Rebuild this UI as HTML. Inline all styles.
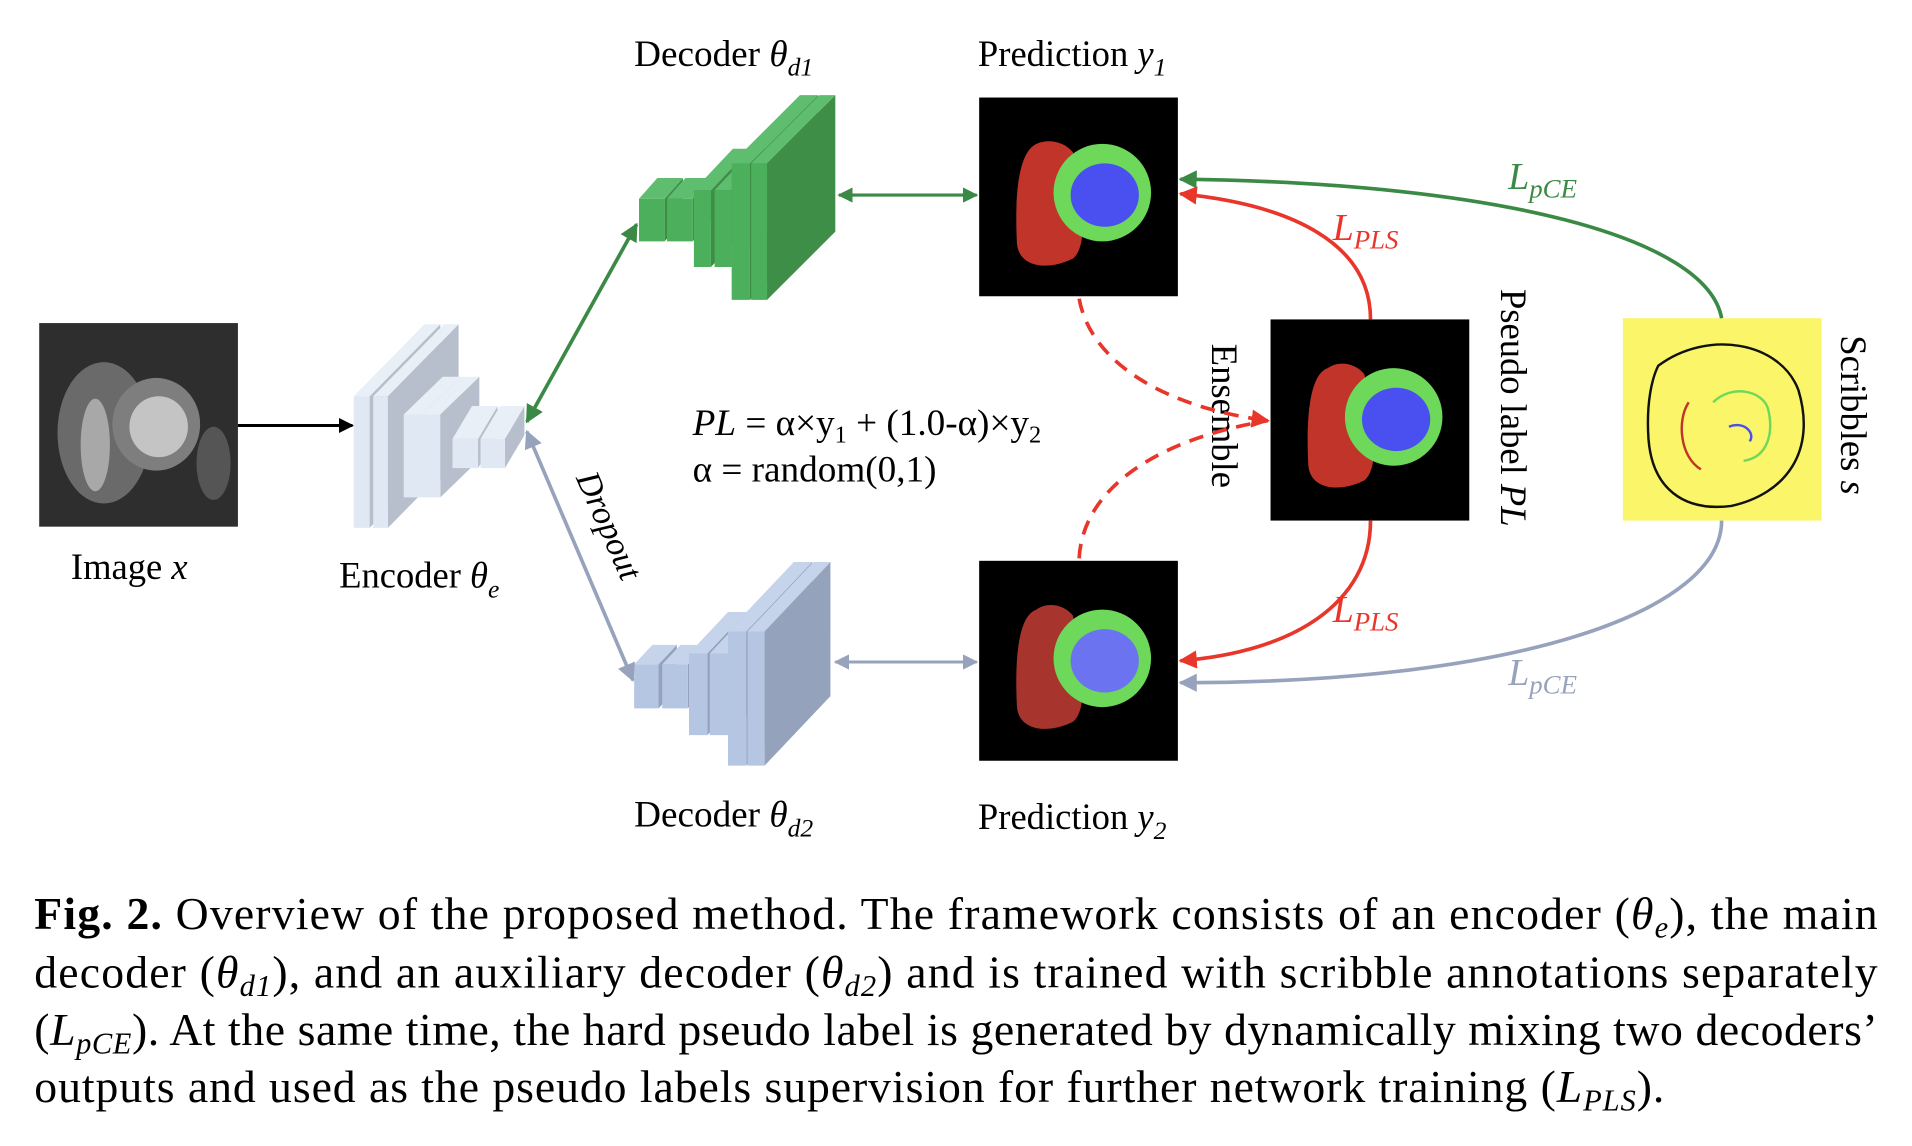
<!DOCTYPE html>
<html><head><meta charset="utf-8"><style>
html,body{margin:0;padding:0;background:#fff}
svg{display:block}
text{font-family:"Liberation Serif",serif;fill:#000}
</style></head><body>
<svg id="s" width="1912" height="1146" viewBox="0 0 1568 940" xmlns="http://www.w3.org/2000/svg">
<defs>
<marker id="ak" viewBox="0 0 10 10" refX="9" refY="5" markerWidth="5" markerHeight="5" orient="auto-start-reverse"><path d="M0,0L10,5L0,10z" fill="#000"/></marker>
<marker id="ag" viewBox="0 0 10 10" refX="9" refY="5" markerWidth="5" markerHeight="5" orient="auto-start-reverse"><path d="M0,0L10,5L0,10z" fill="#3a8a45"/></marker>
<marker id="ab" viewBox="0 0 10 10" refX="9" refY="5" markerWidth="5" markerHeight="5" orient="auto-start-reverse"><path d="M0,0L10,5L0,10z" fill="#97a3bd"/></marker>
<marker id="ar" viewBox="0 0 10 10" refX="9" refY="5" markerWidth="5" markerHeight="5" orient="auto-start-reverse"><path d="M0,0L10,5L0,10z" fill="#e8362a"/></marker>
</defs>

<rect x="32" y="265" width="163" height="167" fill="#2e2e2e"/>
<ellipse cx="85" cy="355" rx="38" ry="58" fill="#6a6a6a"/>
<ellipse cx="128" cy="348" rx="36" ry="38" fill="#7e7e7e"/>
<ellipse cx="130" cy="350" rx="24" ry="25" fill="#c4c4c4"/>
<ellipse cx="78" cy="365" rx="12" ry="38" fill="#a8a8a8"/>
<ellipse cx="175" cy="380" rx="14" ry="30" fill="#555"/>
<text x="58" y="475" font-size="30">Image <tspan font-style="italic">x</tspan></text>
<line x1="195" y1="349" x2="289" y2="349" stroke="#000" stroke-width="2.5" marker-end="url(#ak)"/>

<g id="blocks"></g>

<text x="278" y="482" font-size="30">Encoder <tspan font-style="italic">θ</tspan><tspan font-style="italic" font-size="21" dy="8">e</tspan></text>
<text x="520" y="54" font-size="30.5">Decoder <tspan font-style="italic">θ</tspan><tspan font-style="italic" font-size="21" dy="8">d1</tspan></text>
<text x="520" y="678" font-size="30.5">Decoder <tspan font-style="italic">θ</tspan><tspan font-style="italic" font-size="21" dy="8">d2</tspan></text>
<text x="802" y="54" font-size="30">Prediction <tspan font-style="italic">y</tspan><tspan font-style="italic" font-size="21" dy="8">1</tspan></text>
<text x="802" y="680" font-size="30">Prediction <tspan font-style="italic">y</tspan><tspan font-style="italic" font-size="21" dy="8">2</tspan></text>

<line x1="432" y1="346" x2="522" y2="184" stroke="#3a8a45" stroke-width="3" marker-start="url(#ag)" marker-end="url(#ag)"/>
<line x1="432" y1="354" x2="519" y2="558" stroke="#97a3bd" stroke-width="3" marker-start="url(#ab)" marker-end="url(#ab)"/>
<line x1="688" y1="160" x2="801" y2="160" stroke="#3a8a45" stroke-width="2.5" marker-start="url(#ag)" marker-end="url(#ag)"/>
<line x1="685" y1="543" x2="801" y2="543" stroke="#97a3bd" stroke-width="2.5" marker-start="url(#ab)" marker-end="url(#ab)"/>
<text transform="translate(472,392) rotate(66)" font-size="28" font-style="italic">Dropout</text>

<text x="568" y="357" font-size="30.5"><tspan font-style="italic">PL</tspan> = α×y<tspan font-size="20" dy="6">1</tspan><tspan dy="-6"> + (1.0-α)×y</tspan><tspan font-size="20" dy="6">2</tspan></text>
<text x="568" y="395" font-size="30.5">α = random(0,1)</text>

<g>
<rect x="803" y="80" width="163" height="163" fill="#000"/>
<path d="M850,118 C835,125 832,160 834,200 C836,220 860,222 880,212 C895,200 885,150 880,125 C872,115 858,114 850,118z" fill="#c0342a"/>
<circle cx="904" cy="158" r="40" fill="#6ed85a"/>
<ellipse cx="906" cy="160" rx="28" ry="26" fill="#4a4ff0"/>
</g>
<g transform="translate(0,380)">
<rect x="803" y="80" width="163" height="164" fill="#000"/>
<path d="M850,120 C835,125 832,160 834,200 C836,220 860,222 880,212 C895,200 885,150 880,125 C872,115 858,114 850,120z" fill="#a8342e"/>
<circle cx="904" cy="160" r="40" fill="#6ed85a"/>
<ellipse cx="906" cy="162" rx="28" ry="26" fill="#6b73f0"/>
</g>
<g transform="translate(239,182)">
<rect x="803" y="80" width="163" height="165" fill="#000"/>
<path d="M850,120 C835,125 832,160 834,200 C836,220 860,222 880,212 C895,200 885,150 880,125 C872,115 858,114 850,120z" fill="#c0342a"/>
<circle cx="904" cy="160" r="40" fill="#6ed85a"/>
<ellipse cx="906" cy="162" rx="28" ry="26" fill="#4a4ff0"/>
</g>
<rect x="1331" y="261" width="163" height="166" fill="#fbf56a"/>
<path d="M1360,300 C1400,270 1460,280 1475,320 C1490,370 1465,405 1420,415 C1380,420 1355,400 1352,360 C1350,330 1355,310 1360,300z" fill="none" stroke="#111" stroke-width="2"/>
<path d="M1385,330 C1375,345 1378,375 1395,385" fill="none" stroke="#c0342a" stroke-width="2"/>
<path d="M1405,330 C1420,315 1445,320 1450,335 C1455,355 1450,375 1430,378" fill="none" stroke="#6ed85a" stroke-width="2"/>
<path d="M1418,350 C1430,345 1440,355 1435,362" fill="none" stroke="#4a4ff0" stroke-width="2"/>
<text transform="translate(1510,275) rotate(90)" font-size="30">Scribbles <tspan font-style="italic">s</tspan></text>
<text transform="translate(1231,237) rotate(90)" font-size="30">Pseudo label <tspan font-style="italic">PL</tspan></text>
<text transform="translate(994,282) rotate(90)" font-size="30">Ensemble</text>

<path d="M1412,261 C1400,195 1230,150 968,147" fill="none" stroke="#3a8a45" stroke-width="3" marker-end="url(#ag)"/>
<path d="M1412,427 C1412,500 1250,560 968,560" fill="none" stroke="#97a3bd" stroke-width="3" marker-end="url(#ab)"/>
<path d="M1124,262 C1124,200 1060,168 968,159" fill="none" stroke="#e8362a" stroke-width="3" marker-end="url(#ar)"/>
<path d="M1124,427 C1124,495 1060,535 968,542" fill="none" stroke="#e8362a" stroke-width="3" marker-end="url(#ar)"/>
<path d="M885,245 C895,300 960,335 1040,345" fill="none" stroke="#e8362a" stroke-width="3" stroke-dasharray="12,8" marker-end="url(#ar)"/>
<path d="M885,458 C888,400 950,360 1040,345" fill="none" stroke="#e8362a" stroke-width="3" stroke-dasharray="12,8"/>

<text x="1237" y="155" font-size="31" font-style="italic" style="fill:#3a8a45">L<tspan font-size="22" dy="7">pCE</tspan></text>
<text x="1237" y="562" font-size="31" font-style="italic" style="fill:#97a3bd">L<tspan font-size="22" dy="7">pCE</tspan></text>
<text x="1093" y="197" font-size="31" font-style="italic" style="fill:#e8362a">L<tspan font-size="22" dy="7">PLS</tspan></text>
<text x="1093" y="510" font-size="31" font-style="italic" style="fill:#e8362a">L<tspan font-size="22" dy="7">PLS</tspan></text>

<text x="28" y="762" font-size="37.5" textLength="1512" lengthAdjust="spacing"><tspan font-weight="bold">Fig. 2.</tspan> Overview of the proposed method. The framework consists of an encoder (<tspan font-style="italic">θ</tspan><tspan font-style="italic" font-size="25" dy="7">e</tspan><tspan dy="-7">), the main</tspan></text>
<text x="28" y="810" font-size="37.5" textLength="1512" lengthAdjust="spacing">decoder (<tspan font-style="italic">θ</tspan><tspan font-style="italic" font-size="25" dy="7">d1</tspan><tspan dy="-7">), and an auxiliary decoder (</tspan><tspan font-style="italic">θ</tspan><tspan font-style="italic" font-size="25" dy="7">d2</tspan><tspan dy="-7">) and is trained with scribble annotations separately</tspan></text>
<text x="28" y="857" font-size="37.5" textLength="1512" lengthAdjust="spacing">(<tspan font-style="italic">L</tspan><tspan font-style="italic" font-size="25" dy="7">pCE</tspan><tspan dy="-7">). At the same time, the hard pseudo label is generated by dynamically mixing two decoders’</tspan></text>
<text x="28" y="904" font-size="37.5" textLength="1337" lengthAdjust="spacing">outputs and used as the pseudo labels supervision for further network training (<tspan font-style="italic">L</tspan><tspan font-style="italic" font-size="25" dy="7">PLS</tspan><tspan dy="-7">).</tspan></text>
</svg>
<script>
var g=document.getElementById('blocks'),NS='http://www.w3.org/2000/svg';
function poly(pts,f){var p=document.createElementNS(NS,'polygon');p.setAttribute('points',pts.map(function(a){return a.join(',')}).join(' '));p.setAttribute('fill',f);g.appendChild(p);}
function slab(x,y,w,h,dx,dy,c){
 poly([[x+w,y],[x+w+dx,y-dy],[x+w+dx,y+h-dy],[x+w,y+h]],c[2]);
 poly([[x,y],[x+w,y],[x+w+dx,y-dy],[x+dx,y-dy]],c[1]);
 poly([[x,y],[x+w,y],[x+w,y+h],[x,y+h]],c[0]);
}
var E=['#dfe8f3','#e9eff7','#b6bfcb'],G=['#4caf5b','#5fbd70','#3e8e48'],B=['#b5c6e3','#c5d3eb','#94a2bb'];
slab(290,325,13,108,58,59,E);slab(306,325,12,108,58,59,E);
slab(331,340,15,68,32,31,E);slab(346,340,15,68,32,31,E);
slab(371,360,21,24,16,27,E);slab(394,360,20,24,16,27,E);
slab(524,163,21,35,15,17,G);slab(547,163,21,35,15,17,G);
slab(569,156,14,63,32,34,G);slab(586,156,14,63,32,34,G);
slab(600,134,15,112,56,56,G);slab(616,134,13,112,56,56,G);
slab(520,545,20,36,15,16,B);slab(543,545,21,36,15,16,B);
slab(565,536,15,67,32,34,B);slab(582,536,15,67,32,34,B);
slab(597,518,15,110,54,57,B);slab(613,518,14,110,54,57,B);
</script>
</body></html>
